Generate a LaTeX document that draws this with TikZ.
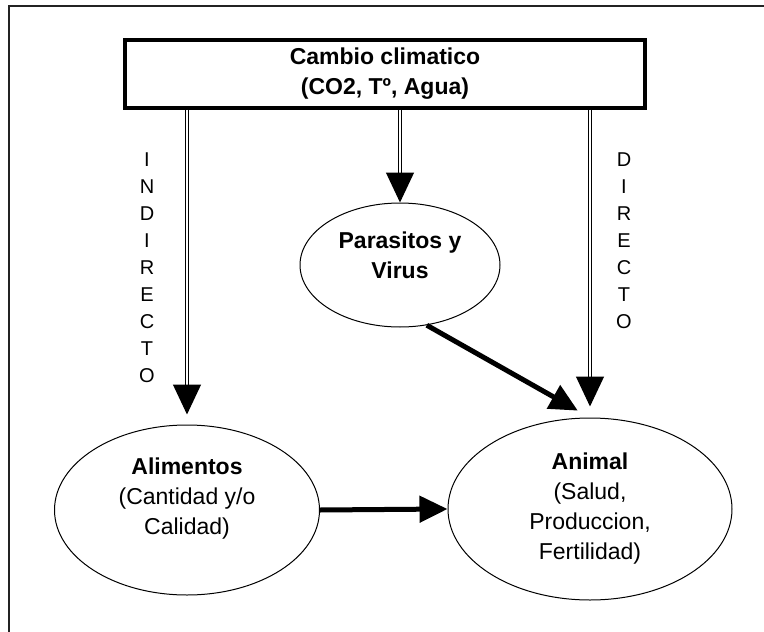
\documentclass[tikz,border=0pt]{standalone}
\usepackage{fontspec}
\setmainfont{Liberation Sans}
\usetikzlibrary{arrows.meta,positioning,shapes.geometric}
\definecolor{framegray}{RGB}{35,35,35}

\begin{document}
\begin{tikzpicture}[x=1pt, y=-1pt,
  bubble/.style={ellipse, draw=black, line width=1pt, inner sep=0pt},
  txt/.style={font=\fontsize{23}{30}\selectfont, align=center},
  letters/.style={font=\fontsize{20}{27}\selectfont, align=center},
  dblarrow/.style={double=white, double distance=2.4pt, line width=1.2pt, -{Triangle[length=30pt, width=28pt]}},
  thickarrow/.style={line width=5pt, -{Triangle[length=28pt, width=26pt]}}]
  \useasboundingbox (0,0) rectangle (764,632);
  % outer frame (cut by the page edge)
  \draw[framegray, line width=2.5pt] (9,640) -- (9,6) -- (770,6);
  % top box
  \node[draw, line width=3.5pt, minimum width=520pt, minimum height=68pt, txt] (cambio) at (385,74)
    {\textbf{Cambio climatico}\\\textbf{(CO2, Tº, Agua)}};
  % ellipses
  \node[bubble, minimum width=200pt, minimum height=124pt] (parasitos) at (400,265) {};
  \node[txt] (parasitostxt) at (400,255) {\textbf{Parasitos y}\\\textbf{Virus}};
  \node[bubble, minimum width=265pt, minimum height=170pt] (alimentos) at (187,510) {};
  \node[txt] (alimentostxt) at (187,499) {\textbf{Alimentos}\\(Cantidad y/o\\Calidad)};
  \node[bubble, minimum width=284pt, minimum height=182pt] (animal) at (590,509) {};
  \node[txt] (animaltxt) at (590,509) {\textbf{Animal}\\(Salud,\\Produccion,\\Fertilidad)};
  % vertical words
  \node[letters] (indirecto) at (147,268) {I\\N\\D\\I\\R\\E\\C\\T\\O};
  \node[letters] (directo) at (624,241) {D\\I\\R\\E\\C\\T\\O};
  % arrows
  \draw[dblarrow, shorten >=10pt] (cambio.south -| alimentos.north) -- (alimentos.north);
  \draw[dblarrow] (cambio.south -| parasitos.north) -- (parasitos.north);
  \draw[dblarrow, shorten >=11pt] (cambio.south -| animal.north) -- (animal.north);
  \draw[thickarrow, shorten >=14pt] (parasitos.-66) -- (animal.north);
  \draw[thickarrow] (alimentos.east) -- (animal.west);
\end{tikzpicture}
\end{document}
